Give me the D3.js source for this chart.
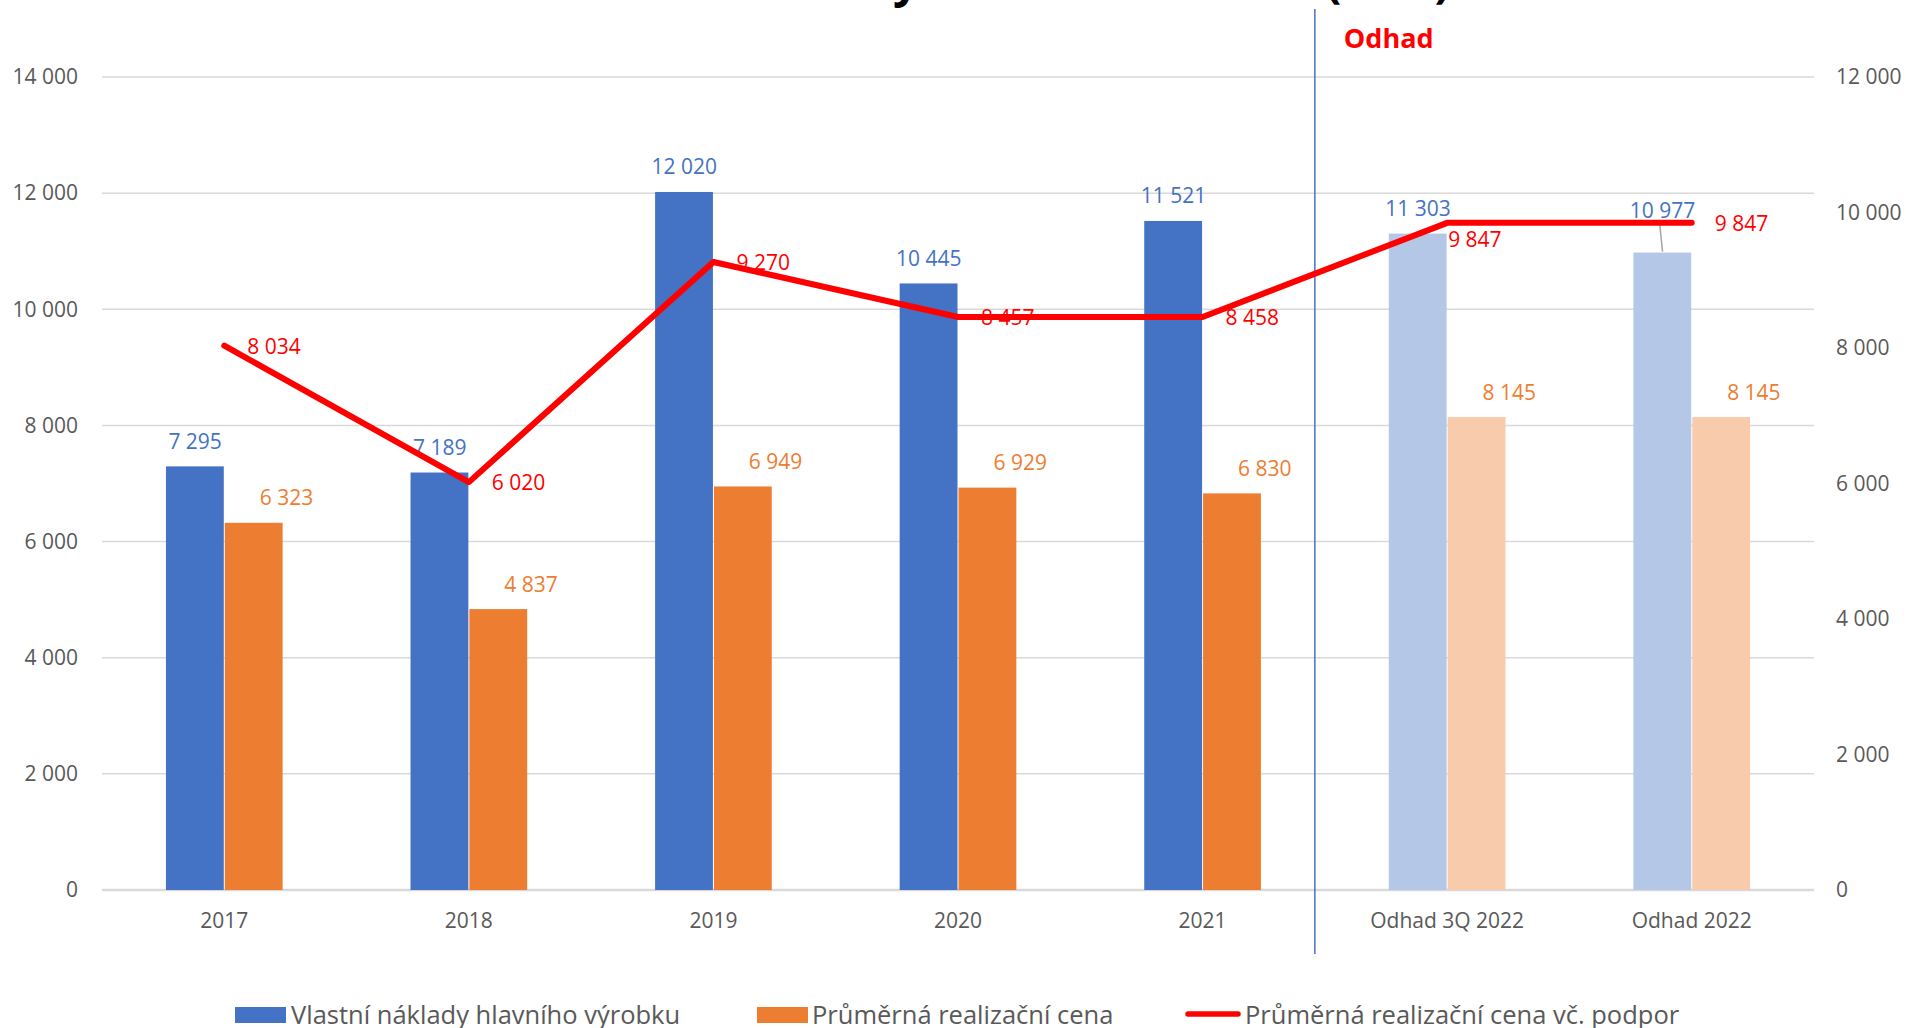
<!DOCTYPE html>
<html>
<head>
<meta charset="utf-8">
<script src="https://cdn.jsdelivr.net/npm/d3@7"></script>
<style>
  body { margin: 0; background: #fff; overflow: hidden; }
  text { font-family: "Open Sans", sans-serif; }
</style>
</head>
<body>
<div id="chart"></div>
<script>
// data
const categories = ["2017", "2018", "2019", "2020", "2021", "Odhad 3Q 2022", "Odhad 2022"];
const naklady = [7295, 7189, 12020, 10445, 11521, 11303, 10977];
const cena = [6323, 4837, 6949, 6929, 6830, 8145, 8145];
const cenaPodpor = [8034, 6020, 9270, 8457, 8458, 9847, 9847];
const leftTicks = [0, 2000, 4000, 6000, 8000, 10000, 12000, 14000];
const rightTicks = [0, 2000, 4000, 6000, 8000, 10000, 12000];
const seriesNames = ["Vlastní náklady hlavního výrobku", "Průměrná realizační cena", "Průměrná realizační cena vč. podpor"];
const odhadStart = 5; // first estimated category

const width = 1906, height = 1028;
const svg = d3.select("#chart").append("svg")
  .attr("width", width)
  .attr("height", height);

const fmt = d3.formatLocale({ decimal: ",", thousands: " ", grouping: [3], currency: ["", ""] }).format(",d");

// scales
const x = d3.scaleBand().domain(categories).range([102, 1814])
  .paddingInner(0.523).paddingOuter(0.2615);
const x1 = d3.scaleBand().domain(["n", "c"]).range([0, x.bandwidth()]);
const yL = d3.scaleLinear().domain([0, 14000]).range([890, 77]);
const yR = d3.scaleLinear().domain([0, 12000]).range([890, 77]);

// title (cut off at the top)
svg.append("text")
  .attr("x", 1450).attr("y", -3)
  .attr("text-anchor", "end")
  .attr("font-size", 46).attr("font-weight", "bold").attr("fill", "#000")
  .text("Vlastní náklady a realizační cena (Kč/t)");

// gridlines
svg.append("g").selectAll("line")
  .data(leftTicks)
  .join("line")
  .attr("x1", 102).attr("x2", 1814)
  .attr("y1", d => yL(d)).attr("y2", d => yL(d))
  .attr("stroke", "#D9D9D9")
  .attr("stroke-width", d => d === 0 ? 2.5 : 1.5);

// left axis
const axL = svg.append("g").attr("transform", "translate(78,0)")
  .call(d3.axisLeft(yL).tickValues(leftTicks).tickFormat(fmt).tickSize(0).tickPadding(0));
axL.select(".domain").remove();
axL.selectAll("text").attr("font-size", 21).attr("fill", "#595959").attr("font-family", "Open Sans");

// right axis
const axR = svg.append("g").attr("transform", "translate(1836,0)")
  .call(d3.axisRight(yR).tickValues(rightTicks).tickFormat(fmt).tickSize(0).tickPadding(0));
axR.select(".domain").remove();
axR.selectAll("text").attr("font-size", 21).attr("fill", "#595959").attr("font-family", "Open Sans");

// category axis
const axB = svg.append("g").attr("transform", "translate(0,913)")
  .call(d3.axisBottom(x).tickSize(0).tickPadding(0));
axB.select(".domain").remove();
axB.selectAll("text").attr("font-size", 21).attr("fill", "#595959").attr("font-family", "Open Sans");

// bars
const colors = {
  n: ["#4472C4", "#B4C7E7"],
  c: ["#ED7D31", "#F8CBAD"]
};
const rows = categories.map((c, i) => ({ c, i, n: naklady[i], p: cena[i] }));

const groups = svg.append("g").selectAll("g")
  .data(rows)
  .join("g")
  .attr("transform", d => "translate(" + x(d.c) + ",0)");

groups.append("rect")
  .attr("x", x1("n")).attr("width", x1.bandwidth() - 0.5)
  .attr("y", d => yL(d.n)).attr("height", d => yL(0) - yL(d.n))
  .attr("fill", d => colors.n[d.i >= odhadStart ? 1 : 0]);

groups.append("rect")
  .attr("x", x1("c") + 0.5).attr("width", x1.bandwidth() - 0.5)
  .attr("y", d => yL(d.p)).attr("height", d => yL(0) - yL(d.p))
  .attr("fill", d => colors.c[d.i >= odhadStart ? 1 : 0]);

// bar labels
groups.append("text")
  .attr("x", x1("n") + x1.bandwidth() / 2)
  .attr("y", d => yL(d.n) - (d.i === categories.length - 1 ? 35 : 17.5))
  .attr("text-anchor", "middle")
  .attr("font-size", 21).attr("fill", "#4472C4")
  .text(d => fmt(d.n));

// leader line for the moved label
groups.filter(d => d.i === categories.length - 1).append("line")
  .attr("x1", x1("n") + x1.bandwidth() / 2 - 3).attr("y1", d => yL(d.n) - 30)
  .attr("x2", x1("n") + x1.bandwidth() / 2).attr("y2", d => yL(d.n) - 1)
  .attr("stroke", "#A6A6A6").attr("stroke-width", 1.5);

groups.append("text")
  .attr("x", x1("c") + x1.bandwidth() / 2 + 33)
  .attr("y", d => yL(d.p) - 17.5)
  .attr("text-anchor", "middle")
  .attr("font-size", 21).attr("fill", "#ED7D31")
  .text(d => fmt(d.p));

// divider between actual and estimate
const divX = (x(categories[odhadStart - 1]) + x.bandwidth() + x(categories[odhadStart])) / 2 - 10;
svg.append("line")
  .attr("x1", divX).attr("x2", divX)
  .attr("y1", 9).attr("y2", 954)
  .attr("stroke", "#4472C4").attr("stroke-width", 1.5);

svg.append("text")
  .attr("x", divX + 29).attr("y", 48)
  .attr("font-size", 27).attr("font-weight", "bold").attr("fill", "#FF0000")
  .text("Odhad");

// line
const cx = c => x(c) + x.bandwidth() / 2;
const line = d3.line()
  .x((d, i) => cx(categories[i]))
  .y(d => yR(d));

svg.append("path")
  .datum(cenaPodpor)
  .attr("d", line)
  .attr("fill", "none")
  .attr("stroke", "#FF0000")
  .attr("stroke-width", 6)
  .attr("stroke-linecap", "round")
  .attr("stroke-linejoin", "round");

svg.append("g").selectAll("text")
  .data(cenaPodpor)
  .join("text")
  .attr("x", (d, i) => cx(categories[i]) + (i === odhadStart ? 1 : 23))
  .attr("y", (d, i) => yR(d) + (i === odhadStart ? 24 : 8))
  .attr("font-size", 21).attr("fill", "#FF0000")
  .text(d => fmt(d));

// legend
const legend = svg.append("g");
legend.append("rect").attr("x", 235).attr("y", 1007).attr("width", 51).attr("height", 16).attr("fill", "#4472C4");
legend.append("text").attr("x", 291).attr("y", 1024).attr("font-size", 25.5).attr("fill", "#595959").text(seriesNames[0]);
legend.append("rect").attr("x", 757).attr("y", 1007).attr("width", 51).attr("height", 16).attr("fill", "#ED7D31");
legend.append("text").attr("x", 812).attr("y", 1024).attr("font-size", 25.5).attr("fill", "#595959").text(seriesNames[1]);
legend.append("line").attr("x1", 1188).attr("x2", 1238).attr("y1", 1014).attr("y2", 1014)
  .attr("stroke", "#FF0000").attr("stroke-width", 5.5).attr("stroke-linecap", "round");
legend.append("text").attr("x", 1245).attr("y", 1024).attr("font-size", 25.5).attr("fill", "#595959").text(seriesNames[2]);
</script>
</body>
</html>
